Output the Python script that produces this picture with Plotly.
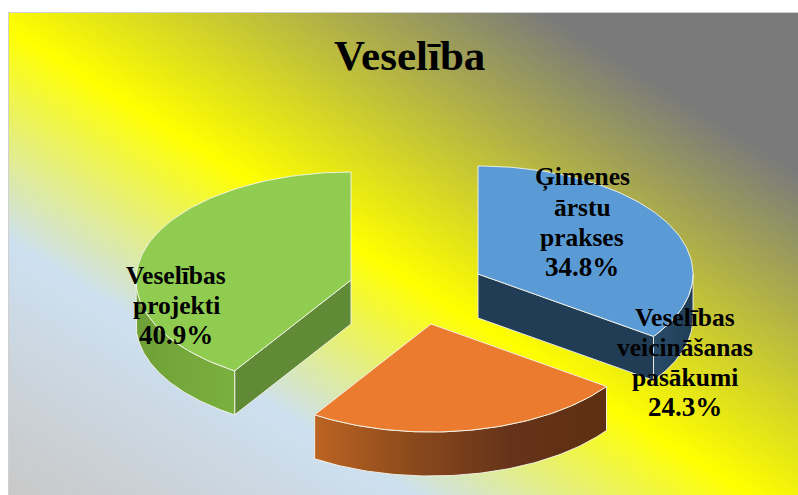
import base64
import math
import plotly.graph_objects as go

# ---- data ----
title_text = "Veselība"
categories = ["Ģimenes ārstu prakses", "Veselības veicināšanas pasākumi", "Veselības projekti"]
values = [34.8, 24.3, 40.9]
label_lines = [["Ģimenes", "ārstu", "prakses", "34.8%"],
               ["Veselības", "veicināšanas", "pasākumi", "24.3%"],
               ["Veselības", "projekti", "40.9%"]]

# ---- pie layout (pixel-space projection of the tilted pie) ----
W, H = 798, 495
RX, RY, DEPTH = 215, 108, 44
apex = [(478, 274), (431, 324), (351, 280)]
top_colors = ["#5B9BD5", "#EB7C2F", "#8FCC50"]
label_pos = [(582, 177), (685, 317), (176, 275)]
LINE_H = 30
EDGE = "rgba(245,245,235,0.9)"


def pt(c, a, dz=0):
    """Point on the ellipse; angle a in degrees clockwise from 12 o'clock."""
    r = math.radians(a)
    return c[0] + RX * math.sin(r), c[1] - RY * math.cos(r) + dz


def arc(c, a0, a1, dz=0, n=90):
    return [pt(c, a0 + (a1 - a0) * i / n, dz) for i in range(n + 1)]


bounds = [0.0]
for v in values:
    bounds.append(bounds[-1] + v / sum(values) * 360)

fig = go.Figure()


def poly(points, color=None, gradient=None, edge=EDGE, w=1):
    xs = [p[0] for p in points] + [points[0][0]]
    ys = [p[1] for p in points] + [points[0][1]]
    kw = dict(fillgradient=gradient) if gradient else dict(fillcolor=color)
    fig.add_trace(go.Scatter(x=xs, y=ys, mode="lines", fill="toself",
                             line=dict(color=edge, width=w), hoverinfo="skip",
                             showlegend=False, **kw))


def hgrad(*stops):
    n = len(stops) - 1
    return dict(type="horizontal", colorscale=[[i / n, s] for i, s in enumerate(stops)])


def wedge(i, outer_from, outer_to, outer_grad, cut_angle=None, cut_color=None):
    c = apex[i]
    a0, a1 = bounds[i], bounds[i + 1]
    if cut_angle is not None:
        poly([c, pt(c, cut_angle), pt(c, cut_angle, DEPTH), (c[0], c[1] + DEPTH)], color=cut_color)
    up = arc(c, outer_from, outer_to)
    down = arc(c, outer_to, outer_from, DEPTH)
    poly(up + down, gradient=outer_grad)
    poly([c] + arc(c, a0, a1), color=top_colors[i])


# green
wedge(2, bounds[2], 270, hgrad("#6FA038", "#7AB03E"), cut_angle=bounds[2], cut_color="#608A35")
# blue
wedge(0, 90, bounds[1], hgrad("#2A4C6A", "#203D55"), cut_angle=bounds[1], cut_color="#203D55")
# orange
wedge(1, bounds[1], bounds[2], hgrad("#BC6422", "#8B4A1C", "#66331A", "#5E2F10"))

annotations = []
for lines, (lx, ly) in zip(label_lines, label_pos):
    for k, s in enumerate(lines):
        size = 27 if s.endswith("%") else 25.5
        annotations.append(dict(x=lx, y=ly + k * LINE_H, text=f"<b>{s}</b>", showarrow=False,
                                xanchor="center", yanchor="middle",
                                font=dict(family="Liberation Serif", size=size, color="#000000")))
annotations.append(dict(x=409, y=55, text=f"<b>{title_text}</b>", showarrow=False,
                        xanchor="center", yanchor="middle",
                        font=dict(family="Liberation Serif", size=43, color="#000000")))

# background gradient
svg = f'''<svg xmlns="http://www.w3.org/2000/svg" width="{W}" height="{H}" viewBox="0 0 {W} {H}">
<defs><linearGradient id="g" gradientUnits="userSpaceOnUse" x1="-216" y1="344" x2="149" y2="-236">
<stop offset="0" stop-color="#C9C9C9"/><stop offset="0.302" stop-color="#CDE0F0"/>
<stop offset="0.565" stop-color="#FFFF00"/><stop offset="1" stop-color="#7A7A7A"/>
</linearGradient></defs>
<rect x="8.5" y="12.5" width="790" height="483" fill="url(#g)" stroke="#D0D0D0" stroke-width="1"/>
</svg>'''
src = "data:image/svg+xml;base64," + base64.b64encode(svg.encode()).decode()

fig.update_layout(
    width=W, height=H, margin=dict(l=0, r=0, t=0, b=0),
    paper_bgcolor="white", plot_bgcolor="rgba(0,0,0,0)", showlegend=False,
    xaxis=dict(range=[0, W], visible=False, fixedrange=True),
    yaxis=dict(range=[H, 0], visible=False, fixedrange=True),
    annotations=annotations,
    images=[dict(source=src, xref="x", yref="y", x=0, y=0, sizex=W, sizey=H,
                 xanchor="left", yanchor="top", sizing="stretch", layer="below")],
)
fig.write_html("out.html", config=dict(displayModeBar=False),
               post_script="document.body.style.margin='0';document.body.style.overflow='hidden';")
